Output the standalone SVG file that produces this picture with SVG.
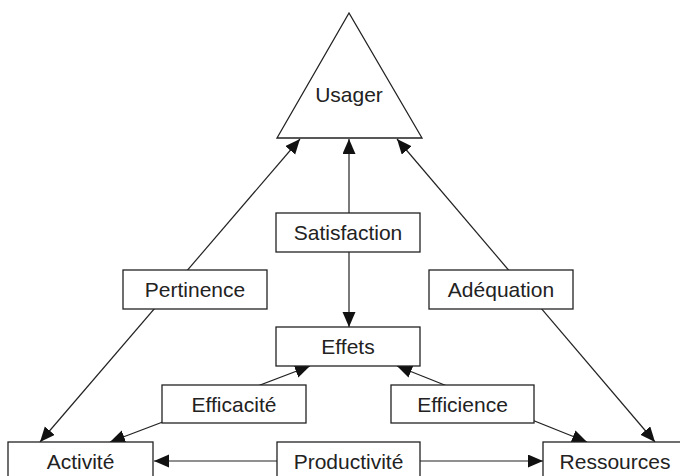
<svg xmlns="http://www.w3.org/2000/svg" width="680" height="476" viewBox="0 0 680 476">
<defs>
<marker id="ah" markerUnits="userSpaceOnUse" markerWidth="16" markerHeight="14" refX="15" refY="6.5" orient="auto-start-reverse">
<path d="M0,0 L15,6.5 L0,13 z" fill="#111"/>
</marker>
<style>
.c{stroke:#222;stroke-width:1.2;fill:none;marker-start:url(#ah);marker-end:url(#ah)}
.b{fill:#fff;stroke:#222;stroke-width:1.3}
.t{font-family:"Liberation Sans",Arial,Helvetica,sans-serif;font-size:21px;fill:#222;text-anchor:middle}
</style>
</defs>
<rect width="680" height="476" fill="#fff"/>
<g id="connectors">
<line class="c" x1="40" y1="442" x2="300" y2="139"/>
<line class="c" x1="397" y1="139" x2="655" y2="442"/>
<line class="c" x1="349" y1="139" x2="349" y2="327"/>
<line class="c" x1="110" y1="442" x2="310" y2="366"/>
<line class="c" x1="397" y1="366" x2="587" y2="442"/>
<line class="c" x1="154" y1="461" x2="543" y2="461"/>
</g>
<g id="usager"><polygon class="b" points="349,13 277,138 422,138"/><text class="t" x="349" y="102">Usager</text></g>
<g id="satisfaction"><rect class="b" x="276" y="213" width="144" height="39"/><text class="t" x="348" y="240">Satisfaction</text></g>
<g id="pertinence"><rect class="b" x="123" y="270" width="144" height="39"/><text class="t" x="195" y="297">Pertinence</text></g>
<g id="adequation"><rect class="b" x="429" y="270" width="144" height="39"/><text class="t" x="501" y="297">Adéquation</text></g>
<g id="effets"><rect class="b" x="276" y="327" width="144" height="39"/><text class="t" x="348" y="354">Effets</text></g>
<g id="efficacite"><rect class="b" x="162" y="385" width="144" height="38"/><text class="t" x="234" y="412">Efficacité</text></g>
<g id="efficience"><rect class="b" x="391" y="385" width="143" height="38"/><text class="t" x="462.5" y="412">Efficience</text></g>
<g id="activite"><rect class="b" x="8" y="442" width="145" height="50"/><text class="t" x="80.5" y="469">Activité</text></g>
<g id="productivite"><rect class="b" x="277" y="442" width="143" height="50"/><text class="t" x="348.5" y="469">Productivité</text></g>
<g id="ressources"><rect class="b" x="543" y="442" width="160" height="50"/><text class="t" x="615" y="469">Ressources</text></g>
</svg>
